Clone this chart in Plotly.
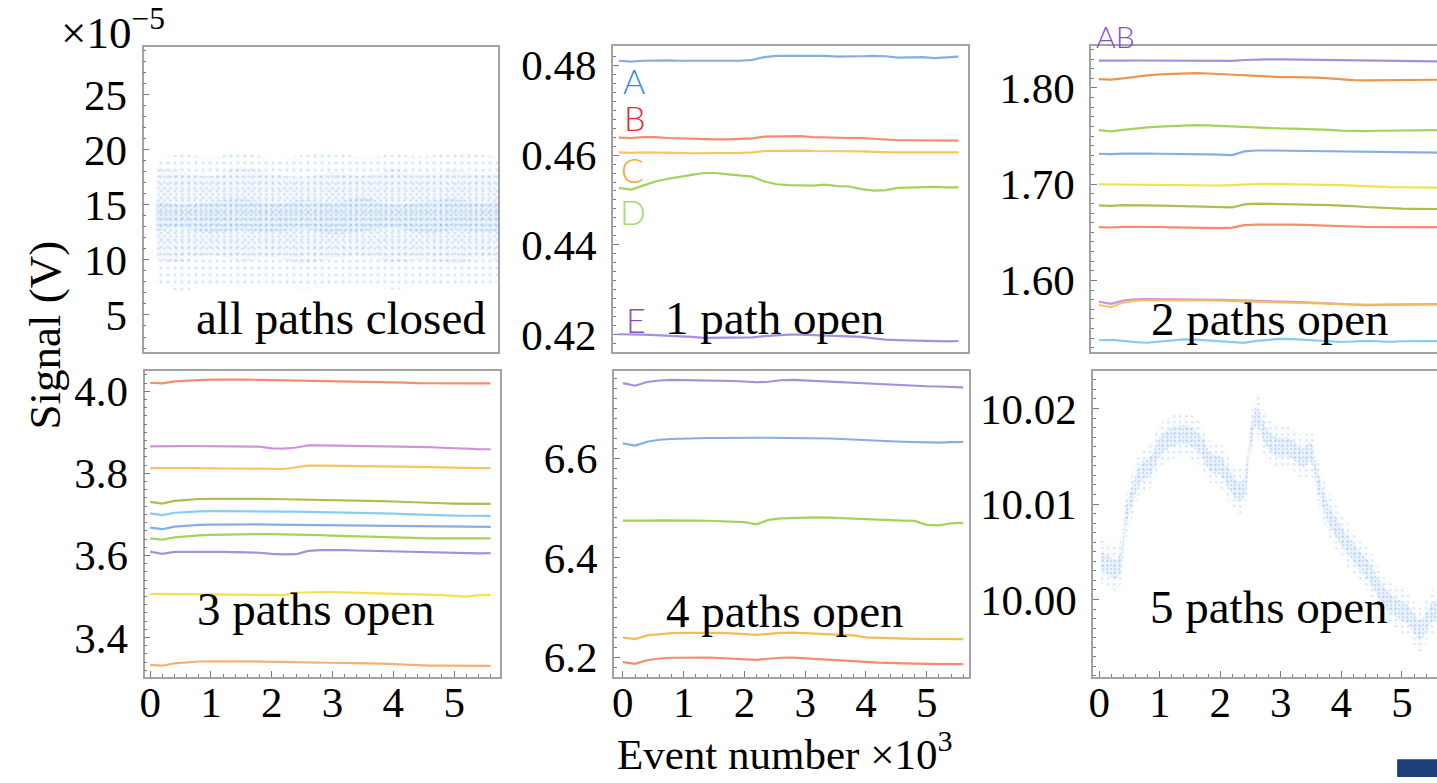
import plotly.graph_objects as go

W, H = 1437, 783

# ======================= DATA =======================
# common event axis (x 10^3 events) for the line traces
event_x = [0.0, 0.2, 0.4, 0.6, 0.8, 1.0, 1.2, 1.4, 1.6, 1.8, 2.0, 2.2, 2.4, 2.6, 2.8,
           3.0, 3.2, 3.4, 3.6, 3.8, 4.0, 4.2, 4.4, 4.6, 4.8, 5.0, 5.2, 5.4, 5.6]

# ---- all paths closed: scattered cloud (x1e-5 V), envelopes
closed_x = [0.1, 0.5, 1.0, 1.5, 2.0, 2.5, 3.0, 3.5, 4.0, 4.5, 5.0, 5.5, 5.7]
closed_outer_hi = [19.0, 19.6, 19.3, 19.8, 19.2, 19.5, 19.9, 19.3, 19.6, 19.4, 19.8, 19.5, 19.2]
closed_outer_lo = [8.0, 7.2, 7.8, 7.5, 7.9, 7.4, 7.6, 7.9, 7.3, 7.7, 7.5, 7.8, 8.0]
closed_mid_hi = [18.3, 18.0, 17.6, 18.4, 17.8, 17.5, 18.0, 17.6, 18.2, 17.8, 18.1, 17.7, 17.9]
closed_mid_lo = [10.0, 9.8, 10.4, 9.9, 10.2, 9.7, 10.1, 10.3, 9.8, 10.0, 9.6, 10.2, 10.0]
closed_core_hi = [15.4, 15.0, 15.3, 15.5, 15.1, 15.4, 15.2, 15.6, 15.0, 15.3, 15.5, 15.1, 15.2]
closed_core_lo = [12.6, 12.9, 12.4, 12.7, 12.5, 12.8, 12.3, 12.6, 12.9, 12.4, 12.7, 12.5, 12.6]

# ---- 1 path open
open1_A = [0.4810, 0.4808, 0.4810, 0.4811, 0.4811, 0.4810, 0.4810, 0.4810, 0.4809, 0.4809, 0.4810, 0.4812, 0.4818, 0.4821, 0.4821,
           0.4822, 0.4821, 0.4821, 0.4819, 0.4819, 0.4820, 0.4821, 0.4820, 0.4817, 0.4817, 0.4818, 0.4816, 0.4818, 0.4819]
open1_B = [0.4639, 0.4638, 0.4640, 0.4640, 0.4638, 0.4637, 0.4636, 0.4636, 0.4635, 0.4635, 0.4636, 0.4637, 0.4641, 0.4641, 0.4642,
           0.4642, 0.4640, 0.4639, 0.4639, 0.4638, 0.4638, 0.4636, 0.4634, 0.4633, 0.4633, 0.4633, 0.4632, 0.4632, 0.4632]
open1_C = [0.4606, 0.4605, 0.4606, 0.4606, 0.4605, 0.4605, 0.4604, 0.4604, 0.4604, 0.4604, 0.4605, 0.4606, 0.4609, 0.4609, 0.4610,
           0.4610, 0.4609, 0.4609, 0.4608, 0.4608, 0.4608, 0.4607, 0.4606, 0.4606, 0.4606, 0.4606, 0.4605, 0.4605, 0.4606]
open1_D = [0.4527, 0.4523, 0.4532, 0.4541, 0.4547, 0.4552, 0.4556, 0.4560, 0.4560, 0.4557, 0.4555, 0.4552, 0.4541, 0.4535, 0.4533,
           0.4533, 0.4532, 0.4534, 0.4531, 0.4530, 0.4524, 0.4521, 0.4522, 0.4527, 0.4528, 0.4528, 0.4529, 0.4528, 0.4528]
open1_E = [0.4201, 0.4201, 0.4200, 0.4199, 0.4198, 0.4197, 0.4195, 0.4193, 0.4193, 0.4193, 0.4193, 0.4194, 0.4197, 0.4199, 0.4200,
           0.4200, 0.4199, 0.4198, 0.4197, 0.4196, 0.4195, 0.4192, 0.4189, 0.4188, 0.4187, 0.4186, 0.4186, 0.4185, 0.4186]

# ---- 2 paths open
open2_1 = [1.8283, 1.8280, 1.8284, 1.8285, 1.8284, 1.8283, 1.8282, 1.8281, 1.8280, 1.8280, 1.8281, 1.8282, 1.8290, 1.8295, 1.8296,
           1.8296, 1.8294, 1.8293, 1.8290, 1.8289, 1.8288, 1.8286, 1.8284, 1.8280, 1.8278, 1.8277, 1.8276, 1.8275, 1.8275]
open2_2 = [1.8092, 1.8087, 1.8100, 1.8118, 1.8130, 1.8140, 1.8147, 1.8152, 1.8154, 1.8150, 1.8143, 1.8136, 1.8128, 1.8120, 1.8115,
           1.8113, 1.8112, 1.8111, 1.8108, 1.8100, 1.8090, 1.8081, 1.8079, 1.8080, 1.8082, 1.8083, 1.8084, 1.8085, 1.8085]
open2_3 = [1.7562, 1.7548, 1.7565, 1.7580, 1.7590, 1.7598, 1.7605, 1.7611, 1.7614, 1.7610, 1.7605, 1.7598, 1.7590, 1.7583, 1.7580,
           1.7579, 1.7578, 1.7576, 1.7572, 1.7565, 1.7557, 1.7552, 1.7552, 1.7555, 1.7558, 1.7560, 1.7561, 1.7562, 1.7562]
open2_4 = [1.7316, 1.7312, 1.7318, 1.7320, 1.7318, 1.7316, 1.7316, 1.7315, 1.7313, 1.7310, 1.7306, 1.7302, 1.7340, 1.7350, 1.7350,
           1.7348, 1.7345, 1.7342, 1.7340, 1.7338, 1.7340, 1.7338, 1.7335, 1.7333, 1.7330, 1.7328, 1.7327, 1.7327, 1.7327]
open2_5 = [1.6998, 1.6996, 1.6999, 1.6999, 1.6997, 1.6995, 1.6992, 1.6988, 1.6985, 1.6984, 1.6986, 1.6990, 1.6998, 1.7002, 1.7003,
           1.7002, 1.7000, 1.6998, 1.6995, 1.6992, 1.6990, 1.6985, 1.6978, 1.6972, 1.6970, 1.6968, 1.6966, 1.6965, 1.6964]
open2_6 = [1.6780, 1.6775, 1.6782, 1.6783, 1.6781, 1.6778, 1.6775, 1.6772, 1.6770, 1.6768, 1.6765, 1.6758, 1.6790, 1.6797, 1.6796,
           1.6795, 1.6792, 1.6790, 1.6785, 1.6782, 1.6780, 1.6772, 1.6763, 1.6755, 1.6750, 1.6746, 1.6744, 1.6743, 1.6742]
open2_7 = [1.6554, 1.6550, 1.6556, 1.6558, 1.6557, 1.6555, 1.6552, 1.6548, 1.6544, 1.6541, 1.6543, 1.6548, 1.6575, 1.6580, 1.6582,
           1.6582, 1.6580, 1.6578, 1.6572, 1.6568, 1.6565, 1.6560, 1.6556, 1.6554, 1.6553, 1.6553, 1.6554, 1.6554, 1.6554]
open2_8 = [1.5778, 1.5756, 1.5790, 1.5802, 1.5805, 1.5805, 1.5804, 1.5803, 1.5802, 1.5800, 1.5798, 1.5795, 1.5790, 1.5784, 1.5780,
           1.5778, 1.5776, 1.5773, 1.5768, 1.5760, 1.5752, 1.5746, 1.5744, 1.5746, 1.5749, 1.5751, 1.5752, 1.5753, 1.5754]
open2_9 = [1.5744, 1.5722, 1.5770, 1.5790, 1.5794, 1.5795, 1.5795, 1.5794, 1.5793, 1.5792, 1.5790, 1.5787, 1.5782, 1.5778, 1.5775,
           1.5772, 1.5770, 1.5768, 1.5764, 1.5758, 1.5752, 1.5748, 1.5746, 1.5747, 1.5749, 1.5750, 1.5751, 1.5751, 1.5752]
open2_10 = [1.5378, 1.5382, 1.5372, 1.5358, 1.5352, 1.5362, 1.5375, 1.5388, 1.5385, 1.5378, 1.5370, 1.5360, 1.5352, 1.5372, 1.5385,
            1.5393, 1.5390, 1.5382, 1.5372, 1.5365, 1.5360, 1.5365, 1.5372, 1.5368, 1.5362, 1.5368, 1.5372, 1.5370, 1.5370]

# ---- 3 paths open
open3_1 = [4.0209, 4.0195, 4.0240, 4.0262, 4.0275, 4.0283, 4.0288, 4.0289, 4.0285, 4.0280, 4.0275, 4.0268, 4.0262, 4.0255, 4.0250,
           4.0245, 4.0243, 4.0241, 4.0240, 4.0235, 4.0225, 4.0210, 4.0200, 4.0195, 4.0194, 4.0193, 4.0193, 4.0193, 4.0194]
open3_2 = [3.8660, 3.8655, 3.8665, 3.8667, 3.8665, 3.8663, 3.8660, 3.8658, 3.8655, 3.8650, 3.8610, 3.8605, 3.8630, 3.8684, 3.8682,
           3.8678, 3.8675, 3.8672, 3.8670, 3.8668, 3.8665, 3.8660, 3.8652, 3.8640, 3.8625, 3.8610, 3.8600, 3.8592, 3.8588]
open3_3 = [3.8127, 3.8120, 3.8128, 3.8130, 3.8128, 3.8127, 3.8125, 3.8124, 3.8122, 3.8115, 3.8108, 3.8106, 3.8150, 3.8188, 3.8188,
           3.8186, 3.8184, 3.8182, 3.8180, 3.8178, 3.8175, 3.8170, 3.8160, 3.8150, 3.8140, 3.8132, 3.8128, 3.8127, 3.8127]
open3_4 = [3.7305, 3.7265, 3.7330, 3.7360, 3.7375, 3.7382, 3.7385, 3.7385, 3.7383, 3.7380, 3.7376, 3.7372, 3.7368, 3.7365, 3.7362,
           3.7358, 3.7352, 3.7345, 3.7335, 3.7325, 3.7315, 3.7300, 3.7290, 3.7280, 3.7272, 3.7265, 3.7260, 3.7258, 3.7257]
open3_5 = [3.7024, 3.6984, 3.7040, 3.7065, 3.7075, 3.7079, 3.7080, 3.7080, 3.7078, 3.7076, 3.7073, 3.7070, 3.7066, 3.7062, 3.7058,
           3.7055, 3.7050, 3.7045, 3.7038, 3.7030, 3.7020, 3.7008, 3.6995, 3.6985, 3.6978, 3.6972, 3.6967, 3.6964, 3.6963]
open3_6 = [3.6679, 3.6639, 3.6700, 3.6730, 3.6745, 3.6752, 3.6757, 3.6759, 3.6758, 3.6756, 3.6752, 3.6748, 3.6745, 3.6745, 3.6742,
           3.6738, 3.6732, 3.6726, 3.6720, 3.6715, 3.6710, 3.6705, 3.6700, 3.6698, 3.6696, 3.6695, 3.6695, 3.6695, 3.6695]
open3_7 = [3.6415, 3.6383, 3.6440, 3.6470, 3.6490, 3.6500, 3.6508, 3.6512, 3.6515, 3.6519, 3.6518, 3.6516, 3.6512, 3.6505, 3.6495,
           3.6485, 3.6475, 3.6465, 3.6455, 3.6445, 3.6435, 3.6425, 3.6418, 3.6415, 3.6415, 3.6415, 3.6415, 3.6415, 3.6415]
open3_8 = [3.6094, 3.6040, 3.6085, 3.6092, 3.6090, 3.6088, 3.6085, 3.6080, 3.6075, 3.6065, 3.6040, 3.6025, 3.6030, 3.6110, 3.6130,
           3.6134, 3.6128, 3.6120, 3.6112, 3.6105, 3.6098, 3.6090, 3.6080, 3.6070, 3.6062, 3.6055, 3.6040, 3.6050, 3.6054]
open3_9 = [3.5061, 3.5058, 3.5062, 3.5063, 3.5060, 3.5055, 3.5050, 3.5045, 3.5040, 3.5032, 3.5029, 3.5035, 3.5090, 3.5105, 3.5109,
           3.5105, 3.5098, 3.5090, 3.5083, 3.5078, 3.5072, 3.5065, 3.5055, 3.5045, 3.5035, 3.5015, 3.4997, 3.5030, 3.5037]
open3_10 = [3.3335, 3.3312, 3.3370, 3.3400, 3.3415, 3.3420, 3.3423, 3.3423, 3.3420, 3.3412, 3.3405, 3.3398, 3.3392, 3.3390, 3.3385,
            3.3380, 3.3378, 3.3376, 3.3375, 3.3365, 3.3350, 3.3335, 3.3322, 3.3315, 3.3312, 3.3310, 3.3310, 3.3310, 3.3310]

# ---- 4 paths open
open4_1 = [6.7508, 6.7455, 6.7530, 6.7560, 6.7574, 6.7572, 6.7568, 6.7560, 6.7556, 6.7550, 6.7540, 6.7525, 6.7535, 6.7565, 6.7572,
           6.7560, 6.7545, 6.7530, 6.7520, 6.7510, 6.7495, 6.7488, 6.7478, 6.7468, 6.7455, 6.7445, 6.7440, 6.7425, 6.7422]
open4_2 = [6.6297, 6.6252, 6.6330, 6.6370, 6.6385, 6.6395, 6.6400, 6.6405, 6.6405, 6.6402, 6.6405, 6.6410, 6.6410, 6.6410, 6.6405,
           6.6400, 6.6398, 6.6395, 6.6385, 6.6370, 6.6358, 6.6350, 6.6340, 6.6330, 6.6322, 6.6318, 6.6310, 6.6320, 6.6324]
open4_3 = [6.4744, 6.4738, 6.4745, 6.4750, 6.4752, 6.4748, 6.4745, 6.4742, 6.4738, 6.4730, 6.4715, 6.4672, 6.4760, 6.4790, 6.4800,
           6.4810, 6.4810, 6.4806, 6.4795, 6.4780, 6.4768, 6.4758, 6.4750, 6.4745, 6.4740, 6.4660, 6.4650, 6.4690, 6.4698]
open4_4 = [6.2397, 6.2364, 6.2440, 6.2470, 6.2485, 6.2492, 6.2496, 6.2495, 6.2490, 6.2480, 6.2465, 6.2450, 6.2470, 6.2490, 6.2494,
           6.2485, 6.2470, 6.2463, 6.2455, 6.2440, 6.2400, 6.2390, 6.2382, 6.2375, 6.2370, 6.2366, 6.2364, 6.2364, 6.2364]
open4_5 = [6.1901, 6.1868, 6.1940, 6.1975, 6.1990, 6.1993, 6.1993, 6.1992, 6.1985, 6.1970, 6.1955, 6.1947, 6.1970, 6.1990, 6.1993,
           6.1980, 6.1965, 6.1955, 6.1945, 6.1925, 6.1905, 6.1890, 6.1888, 6.1880, 6.1872, 6.1866, 6.1862, 6.1861, 6.1861]

# ---- 5 paths open: scattered cloud, centre line
open5_x = [0.03, 0.15, 0.27, 0.36, 0.42, 0.52, 0.70, 0.85, 1.00, 1.20, 1.45, 1.66, 1.85, 2.00, 2.15, 2.30, 2.40, 2.48,
           2.60, 2.76, 2.93, 3.15, 3.37, 3.48, 3.62, 3.80, 4.02, 4.25, 4.45, 4.65, 4.85, 5.10, 5.30, 5.52, 5.60]
open5_mid = [10.0040, 10.0036, 10.0032, 10.0040, 10.0080, 10.0105, 10.0133, 10.0140, 10.0160, 10.0170, 10.0172, 10.0163,
             10.0143, 10.0140, 10.0125, 10.0113, 10.0118, 10.0160, 10.0192, 10.0170, 10.0160, 10.0159, 10.0148, 10.0155,
             10.0122, 10.0088, 10.0065, 10.0045, 10.0030, 10.0008, 9.9994, 9.9984, 9.9968, 9.9988, 9.9986]
open5_core_halfwidth = 0.0010
open5_outer_halfwidth = 0.0023

# ======================= STYLE / LAYOUT =======================
SERIF = "Liberation Serif"
C_BLUE, C_RED, C_ORANGE, C_GREEN, C_PURPLE = "#7aa6e3", "#f6805a", "#f9bd55", "#9ccd4c", "#9c84dc"
C_MAGENTA, C_DKORANGE, C_LTBLUE, C_YELLOW, C_OLIVE = "#cc88d6", "#ec8a3c", "#7cc8ef", "#f2df3a", "#a9b53c"

fig = go.Figure()


def line(xa, ya, y, color):
    fig.add_trace(go.Scatter(x=event_x, y=y, xaxis=xa, yaxis=ya, mode="lines",
                             line=dict(color=color, width=2.2), opacity=0.9,
                             hoverinfo="skip", showlegend=False))


def band(xa, ya, xs, lo, hi, color, fg_op, size, solidity, bg):
    fig.add_trace(go.Scatter(x=list(xs) + list(xs)[::-1], y=list(hi) + list(lo)[::-1],
                             xaxis=xa, yaxis=ya, mode="lines", line=dict(width=0, shape="spline"),
                             fill="toself", fillcolor=bg,
                             fillpattern=dict(shape=".", fgcolor=color, fgopacity=fg_op,
                                              size=size, solidity=solidity, fillmode="overlay"),
                             hoverinfo="skip", showlegend=False))


# panel 1 : all paths closed
cloud_col = "#5b97e0"
band("x", "y", closed_x, closed_outer_lo, closed_outer_hi, cloud_col, 0.32, 7, 0.10, "rgba(180,212,246,0.06)")
band("x", "y", closed_x, closed_mid_lo, closed_mid_hi, cloud_col, 0.36, 6, 0.11, "rgba(170,205,245,0.07)")
band("x", "y", closed_x, closed_core_lo, closed_core_hi, cloud_col, 0.48, 5, 0.14, "rgba(150,190,240,0.10)")

# panel 2 : 1 path open
for ys, c in [(open1_A, C_BLUE), (open1_B, C_RED), (open1_C, C_ORANGE), (open1_D, C_GREEN), (open1_E, C_PURPLE)]:
    line("x2", "y2", ys, c)

# panel 3 : 2 paths open
for ys, c in [(open2_1, C_PURPLE), (open2_2, C_DKORANGE), (open2_3, C_GREEN), (open2_4, C_BLUE), (open2_5, C_YELLOW),
              (open2_6, C_OLIVE), (open2_7, C_RED), (open2_8, C_MAGENTA), (open2_9, C_ORANGE), (open2_10, C_LTBLUE)]:
    line("x3", "y3", ys, c)

# panel 4 : 3 paths open
for ys, c in [(open3_1, C_RED), (open3_2, C_MAGENTA), (open3_3, C_ORANGE), (open3_4, C_OLIVE), (open3_5, C_LTBLUE),
              (open3_6, C_BLUE), (open3_7, C_GREEN), (open3_8, C_PURPLE), (open3_9, C_YELLOW), (open3_10, "#f5a868")]:
    line("x4", "y4", ys, c)

# panel 5 : 4 paths open
for ys, c in [(open4_1, C_PURPLE), (open4_2, C_BLUE), (open4_3, C_GREEN), (open4_4, "#f7b43c"), (open4_5, C_RED)]:
    line("x5", "y5", ys, c)

# panel 6 : 5 paths open
o_lo = [v - open5_outer_halfwidth for v in open5_mid]
o_hi = [v + open5_outer_halfwidth for v in open5_mid]
c_lo = [v - open5_core_halfwidth for v in open5_mid]
c_hi = [v + open5_core_halfwidth for v in open5_mid]
band("x6", "y6", open5_x, o_lo, o_hi, cloud_col, 0.30, 6, 0.11, "rgba(180,212,246,0.07)")
band("x6", "y6", open5_x, c_lo, c_hi, cloud_col, 0.45, 4, 0.16, "rgba(150,190,240,0.12)")

# ---- panel geometry (pixel boxes: left, right, top, bottom)
boxes = {
    1: (139, 495, 44, 353), 2: (610, 966, 43, 353), 3: (1090, 1437, 43, 353),
    4: (140, 497, 372, 682), 5: (611, 967, 372, 682), 6: (1092, 1437, 372, 682),
}
xranges = {1: [-0.11, 5.73], 2: [-0.099, 5.75], 3: [-0.127, 5.58],
           4: [-0.093, 5.759], 5: [-0.148, 5.69], 6: [-0.1, 5.58]}
yranges = {1: [1.595, 29.27], 2: [0.41604, 0.48418], 3: [1.5251, 1.8431],
           4: [3.303, 4.0489], 5: [6.1597, 6.7746], 6: [9.99186, 10.0239]}
ytick = {1: (5, 1, ".0f"), 2: (0.02, 0.002, ".2f"), 3: (0.1, 0.01, ".2f"),
         4: (0.2, 0.02, ".1f"), 5: (0.2, 0.02, ".1f"), 6: (0.01, 0.001, ".2f")}

tick_font = dict(family=SERIF, size=43, color="black")
frame = "#a3a3a3"
tickc = "#7a7a7a"
layout = dict(width=W, height=H, margin=dict(l=0, r=0, t=0, b=0),
              paper_bgcolor="white", plot_bgcolor="white", showlegend=False)

for i in range(1, 7):
    l, r, t, b = boxes[i]
    sfx = "" if i == 1 else str(i)
    bottom_row = i >= 4
    right_col = i in (3, 6)
    xa = dict(domain=[l / W, r / W], range=xranges[i], anchor="y" + sfx,
              showline=True, linecolor=frame, linewidth=1.6, mirror=True,
              showgrid=False, zeroline=False, tickfont=tick_font,
              fixedrange=True)
    if bottom_row:
        xa.update(ticks="inside", ticklen=6, tickcolor=tickc, tickwidth=1,
                  tickmode="linear", tick0=0, dtick=1, showticklabels=True,
                  ticklabelstandoff=-14,
                  minor=dict(ticks="inside", ticklen=3, tickcolor=tickc, dtick=0.2, tick0=0))
    else:
        xa.update(ticks="", showticklabels=False)
    dt, mdt, fmt = ytick[i]
    ya = dict(domain=[1 - b / H, 1 - t / H], range=yranges[i], anchor="x" + sfx,
              showline=True, linecolor=frame, linewidth=1.6, mirror=not right_col,
              showgrid=False, zeroline=False, tickfont=tick_font,
              ticks="inside", ticklen=6, tickcolor=tickc, tickwidth=1,
              tickmode="linear", tick0=0, dtick=dt, tickformat=fmt,
              ticklabelstandoff=6,
              minor=dict(ticks="inside", ticklen=3, tickcolor=tickc, dtick=mdt, tick0=0),
              fixedrange=True)
    layout["xaxis" + sfx] = xa
    layout["yaxis" + sfx] = ya

fig.update_layout(**layout)


def P(px, py):
    return px / W, 1 - py / H


annotations = []


def txt(px, py, text, size, color="black", family=SERIF, xanchor="center", yanchor="middle", angle=0, weight=None):
    x, y = P(px, py)
    f = dict(family=family, size=size, color=color)
    if weight:
        f["weight"] = weight
    annotations.append(dict(x=x, y=y, xref="paper", yref="paper", text=text, showarrow=False,
                            xanchor=xanchor, yanchor=yanchor, textangle=angle, font=f))


# panel titles
txt(337, 318, "all paths closed", 47)
txt(772, 318, "1 path open", 47)
txt(1269, 319, "2 paths open", 47)
txt(312, 613, "3 paths open", 47)
txt(783, 615, "4 paths open", 47)
txt(1268, 611, "5 paths open", 47)

# path labels
SANS = "Lato"
txt(631, 77, "A", 34, "#2f8bd8", SANS, weight=300)
txt(632, 115, "B", 34, "#e8262e", SANS, weight=300)
txt(630, 168, "C", 34, "#f5a73f", SANS, weight=300)
txt(630, 210, "D", 34, "#a2de74", SANS, weight=300)
txt(633, 320, "E", 34, "#8a4fc6", SANS, weight=300)
txt(1114, 32, "AB", 30, "#8a4fc6", SANS, weight=300)

# axis titles and multipliers
txt(108, 26, "×10<sup>−5</sup>", 45)
txt(40, 335, "Signal (V)", 45, angle=-90)
txt(782, 757, "Event number ×10<sup>3</sup>", 43)

fig.update_layout(annotations=annotations)

# small piece of logo in the corner
fig.add_shape(type="rect", xref="paper", yref="paper", x0=1397 / W, x1=1.0, y0=0.0, y1=1 - 765 / H,
              fillcolor="#1d3f78", line=dict(width=0))

fig.write_html("out.html")
